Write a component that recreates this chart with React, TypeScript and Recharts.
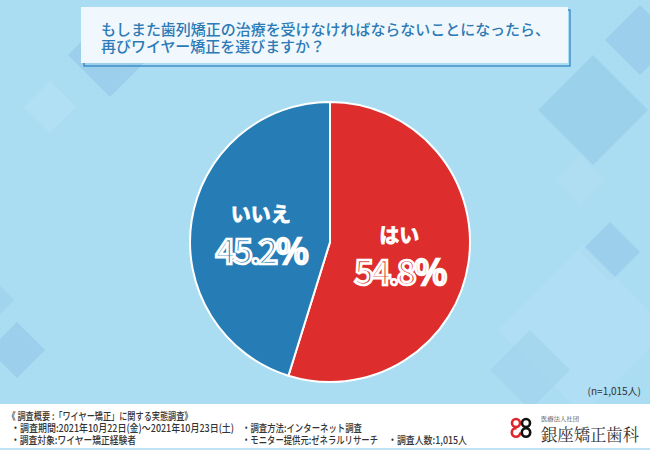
import { PieChart, Pie, Cell } from 'recharts';

const answers = ['はい', 'いいえ'];
const shares = [54.8, 45.2];
const sliceColors = ['#DE2D2D', '#267DB6'];

const footerLines = [
    '《 調査概要 :「ワイヤー矯正」に関する実態調査》',
    '・調査期間:2021年10月22日(金)〜2021年10月23日(土)',
    '・調査方法:インターネット調査',
    '・調査対象:ワイヤー矯正経験者',
    '・モニター提供元:ゼネラルリサーチ',
    '・調査人数:1,015人',
];

const data = answers.map((name, i) => ({ name, value: shares[i] }));

const JP = '"Noto Sans CJK JP", "Noto Sans", sans-serif';
const RADIAN = Math.PI / 180;

// decorative background diamonds: [cx, cy, half diagonal, colour]
const diamonds: [number, number, number, string][] = [
    [110, 55, 42, '#97CCE9'],
    [50, 107, 26, '#B3E1F5'],
    [17, 350, 28, '#97CCE9'],
    [0, 300, 14, '#9FD2EC'],
    [593, 110, 55, '#99CEEA'],
    [580, 180, 25, '#B0DEF3'],
    [610, 252, 30, '#97CCE9'],
    [583, 330, 85, '#B2DFF4'],
    [530, 370, 40, '#A2D5EE'],
    [640, 40, 35, '#97CCE9'],
];

function renderLabel(props: any) {
    const { cx, cy, midAngle, outerRadius, index, value } = props;
    const r = outerRadius * 0.5;
    const x = cx + r * Math.cos(-midAngle * RADIAN);
    const y = cy + r * Math.sin(-midAngle * RADIAN);
    return (
        <g>
            <text x={x} y={y - 18} textAnchor="middle" dominantBaseline="central"
                fill="#fff" stroke="#fff" strokeWidth={0.8}
                style={{ fontFamily: JP, fontSize: 20, fontWeight: 700 }}>
                {answers[index]}
            </text>
            <text x={x} y={y + 17} textAnchor="middle" dominantBaseline="central"
                fill={sliceColors[index]} stroke="#fff" strokeWidth={2.6}
                style={{ fontFamily: JP, fontSize: 35, fontWeight: 500, letterSpacing: -2.5 }}>
                {value}%
            </text>
        </g>
    );
}

export default function App() {
    return (
        <div style={{ position: 'absolute', left: 0, top: 0, width: 650, height: 450, overflow: 'hidden' }}>
            <svg width={650} height={450} style={{ position: 'absolute', left: 0, top: 0 }}>
                <rect x={0} y={0} width={650} height={450} fill="#AADCF2" />
                {diamonds.map(([x, y, h, c], i) => (
                    <polygon key={i} points={`${x},${y - h} ${x + h},${y} ${x},${y + h} ${x - h},${y}`} fill={c} opacity={0.8} />
                ))}

                {/* title box */}
                <rect x={84} y={10} width={486} height={56} fill="none" stroke="#2A7DC0" strokeWidth={1.2} />
                <rect x={81} y={7} width={487} height={56} fill="#F0F8FD" />
                <text x={101} y={28.5} dominantBaseline="central" fill="#2C7AB6" textLength={449} lengthAdjust="spacingAndGlyphs"
                    style={{ fontFamily: JP, fontSize: 15, fontWeight: 500 }}>
                    もしまた歯列矯正の治療を受けなければならないことになったら、
                </text>
                <text x={101} y={45.5} dominantBaseline="central" fill="#2C7AB6" textLength={224} lengthAdjust="spacingAndGlyphs"
                    style={{ fontFamily: JP, fontSize: 15, fontWeight: 500 }}>
                    再びワイヤー矯正を選びますか？
                </text>

                <text x={641} y={390} textAnchor="end" dominantBaseline="central" fill="#333"
                    style={{ fontFamily: JP, fontSize: 10 }}>
                    (n=1,015人)
                </text>

                {/* footer */}
                <rect x={0} y={404} width={650} height={44} fill="#FFFFFF" />
                <rect x={0} y={448} width={650} height={2} fill="#BFE3F4" />
                <g fill="#333" style={{ fontFamily: JP, fontSize: 10.5, fontWeight: 500 }}>
                    <text x={7.5} y={415} dominantBaseline="central" textLength={185} lengthAdjust="spacingAndGlyphs">{footerLines[0]}</text>
                    <text x={11} y={427} dominantBaseline="central" textLength={223} lengthAdjust="spacingAndGlyphs">{footerLines[1]}</text>
                    <text x={242} y={427} dominantBaseline="central" textLength={120} lengthAdjust="spacingAndGlyphs">{footerLines[2]}</text>
                    <text x={11} y={439} dominantBaseline="central" textLength={125} lengthAdjust="spacingAndGlyphs">{footerLines[3]}</text>
                    <text x={242} y={439} dominantBaseline="central" textLength={136} lengthAdjust="spacingAndGlyphs">{footerLines[4]}</text>
                    <text x={388} y={439} dominantBaseline="central" textLength={79} lengthAdjust="spacingAndGlyphs">{footerLines[5]}</text>
                </g>

                {/* logo */}
                <circle cx={516} cy={423} r={4} fill="none" stroke="#E0262B" strokeWidth={2.6} />
                <circle cx={516} cy={432.5} r={4.2} fill="none" stroke="#E0262B" strokeWidth={2.6} strokeDasharray="20 6" />
                <circle cx={526} cy={423} r={4} fill="none" stroke="#111" strokeWidth={2.6} />
                <circle cx={526} cy={432.5} r={4.2} fill="none" stroke="#111" strokeWidth={2.6} />
                <text x={541} y={418} dominantBaseline="central" fill="#444" textLength={38} lengthAdjust="spacingAndGlyphs"
                    style={{ fontFamily: '"Noto Serif CJK JP", serif', fontSize: 6 }}>
                    医療法人社団
                </text>
                <text x={541} y={433} dominantBaseline="central" fill="#333" textLength={98} lengthAdjust="spacingAndGlyphs"
                    style={{ fontFamily: '"Noto Serif CJK JP", serif', fontSize: 17 }}>
                    銀座矯正歯科
                </text>
            </svg>

            <div style={{ position: 'absolute', left: 0, top: 0 }}>
                <PieChart width={650} height={450}>
                    <Pie
                        data={data}
                        dataKey="value"
                        nameKey="name"
                        cx={325}
                        cy={237}
                        outerRadius={140}
                        startAngle={90}
                        endAngle={-270}
                        stroke="#fff"
                        strokeWidth={2}
                        label={renderLabel}
                        labelLine={false}
                        isAnimationActive={false}
                    >
                        {data.map((d, i) => (
                            <Cell key={d.name} fill={sliceColors[i]} />
                        ))}
                    </Pie>
                </PieChart>
            </div>
        </div>
    );
}
